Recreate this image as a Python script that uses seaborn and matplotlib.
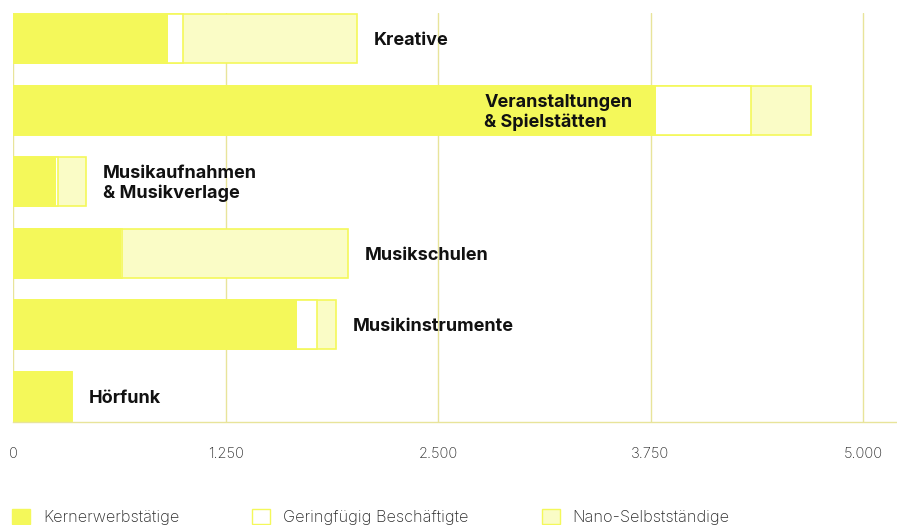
import numpy as np
import pandas as pd
import matplotlib
matplotlib.use('Agg')
import matplotlib.pyplot as plt
from matplotlib.patches import Patch
import seaborn as sns

# Daten
categories = ['Kreative', 'Veranstaltungen\n& Spielstätten', 'Musikaufnahmen\n& Musikverlage',
              'Musikschulen', 'Musikinstrumente', 'Hörfunk']
kern = [912, 3782, 253, 637, 1673, 345]
gering = [88, 557, 10, 5, 118, 0]
nano = [1023, 355, 169, 1330, 110, 0]
series_names = ['Kernerwerbstätige', 'Geringfügig Beschäftigte', 'Nano-Selbstständige']
tick_values = [0, 1250, 2500, 3750, 5000]
tick_labels = ['0', '1.250', '2.500', '3.750', '5.000']

yellow = '#F4F85A'
pale = '#FAFCC6'
grid_col = '#E8E49A'
text_col = '#2b2b2b'

sns.set_style('white')
plt.rcParams['font.family'] = ['Inter', 'DejaVu Sans']

df = pd.DataFrame({'Kategorie': categories, 'kern': kern, 'gering': gering, 'nano': nano})
df['kern_gering'] = df['kern'] + df['gering']
df['total'] = df['kern_gering'] + df['nano']

fig = plt.figure(figsize=(8.97, 5.25), dpi=100)
ax = fig.add_axes([13 / 897, 1 - 422 / 525, 1 - 13 / 897, (422 - 13) / 525])

# gestapelte Balken: von hinten (Summe) nach vorne (Kern)
sns.barplot(data=df, y='Kategorie', x='total', orient='h', color=pale, saturation=1,
            edgecolor=yellow, linewidth=1.2, width=0.68, ax=ax)
sns.barplot(data=df, y='Kategorie', x='kern_gering', orient='h', color='white', saturation=1,
            edgecolor=yellow, linewidth=1.2, width=0.68, ax=ax)
sns.barplot(data=df, y='Kategorie', x='kern', orient='h', color=yellow, saturation=1,
            linewidth=0, width=0.70, ax=ax)

# Beschriftungen der Kategorien
for i, row in df.iterrows():
    if row['total'] > 4000:
        ax.annotate(row['Kategorie'], xy=(row['kern'], i), xytext=(-17, -1.5), textcoords='offset points',
                    ha='right', va='center', fontsize=13, fontweight='bold', color='#111111',
                    multialignment='left', linespacing=1.2)
    else:
        ax.annotate(row['Kategorie'], xy=(row['total'], i), xytext=(12, -1.5), textcoords='offset points',
                    ha='left', va='center', fontsize=13, fontweight='bold', color='#111111',
                    linespacing=1.2)

ax.set_xlim(0, 5200)
ax.set_ylim(5.36, -0.36)
ax.set_xticks(tick_values)
ax.set_xticklabels(tick_labels, fontsize=10.5, fontweight='light', color=text_col)
ax.set_yticks([])
ax.set_xlabel('')
ax.set_ylabel('')
ax.tick_params(axis='x', length=0, pad=18)
ax.grid(axis='x', color=grid_col, linewidth=1)
ax.set_axisbelow(True)
for s in ['top', 'right', 'left']:
    ax.spines[s].set_visible(False)
ax.spines['bottom'].set_color(grid_col)
ax.spines['bottom'].set_linewidth(1)

handles = [Patch(facecolor=yellow, edgecolor=yellow),
           Patch(facecolor='white', edgecolor=yellow),
           Patch(facecolor=pale, edgecolor=yellow)]
fig.legend(handles, series_names, loc='center left', bbox_to_anchor=(12 / 897, 8 / 525),
           ncol=3, frameon=False, prop={'weight': 'light', 'size': 11.7},
           handlelength=1.1, handleheight=1.1, handletextpad=0.8, columnspacing=4.5,
           borderpad=0, borderaxespad=0, labelcolor=text_col)

fig.savefig('out.png', dpi=100)
